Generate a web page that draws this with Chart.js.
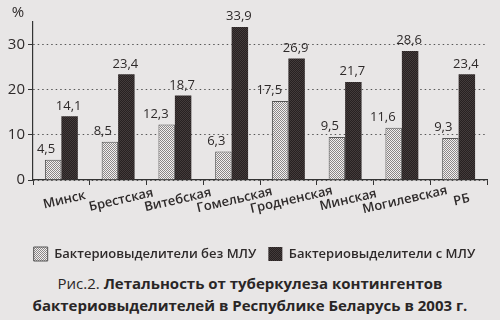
<!DOCTYPE html>
<html lang="ru">
<head>
    <meta charset="UTF-8">
    <title>Летальность от туберкулеза</title>
    <script src="https://cdn.jsdelivr.net/npm/chart.js"></script>
    <style>
        body { margin: 0; background: #e8e6e6; font-family: "Open Sans", sans-serif; }
        #wrap { position: relative; width: 500px; height: 272px; }
        #caption { width: 500px; text-align: center; font-size: 15px; line-height: 22px; color: #2a2626; }
        #caption b { font-weight: 700; }
    </style>
</head>
<body>
    <div id="wrap"><canvas id="chart"></canvas></div>
    <div id="caption">Рис.2. <b>Летальность от туберкулеза контингентов</b><br><b>бактериовыделителей в Республике Беларусь в 2003 г.</b></div>

    <script>
        // data
        const regions = ['Минск', 'Брестская', 'Витебская', 'Гомельская', 'Гродненская', 'Минская', 'Могилевская', 'РБ'];
        const withoutMdr = [4.5, 8.5, 12.3, 6.3, 17.5, 9.5, 11.6, 9.3];
        const withMdr = [14.1, 23.4, 18.7, 33.9, 26.9, 21.7, 28.6, 23.4];
        const yTicks = [0, 10, 20, 30];
        const seriesNames = ['Бактериовыделители без МЛУ', 'Бактериовыделители с МЛУ'];

        const textColor = '#2e2a2a';

        // little dotted textures like the printed hatching
        function makePattern(a, b) {
            const c = document.createElement('canvas');
            c.width = 2; c.height = 2;
            const g = c.getContext('2d');
            g.fillStyle = a; g.fillRect(0, 0, 2, 2);
            g.fillStyle = b; g.fillRect(0, 0, 1, 1); g.fillRect(1, 1, 1, 1);
            return g.createPattern(c, 'repeat');
        }
        const lightFill = makePattern('#f2f0f0', '#8a8686');
        const darkFill = makePattern('#272121', '#433b3b');

        // value labels above bars + rotated category names + "%" sign
        const extras = {
            id: 'extras',
            afterLayout(chart) {
                // the printed legend sits a bit right of centre
                chart.legend.left += 11;
                chart.legend.right += 11;
            },
            afterDatasetsDraw(chart) {
                const ctx = chart.ctx;
                ctx.save();
                ctx.fillStyle = textColor;
                ctx.font = '13px "Open Sans"';
                ctx.textBaseline = 'bottom';
                chart.data.datasets.forEach((ds, i) => {
                    // light bar labels sit slightly to the left, as in the print
                    ctx.textAlign = i === 0 ? 'right' : 'center';
                    const dx = i === 0 ? 2 : -1;
                    chart.getDatasetMeta(i).data.forEach((bar, j) => {
                        ctx.fillText(String(ds.data[j]).replace('.', ','), bar.x + dx, bar.y - 4);
                    });
                });

                const xs = chart.scales.x;
                ctx.textAlign = 'center';
                ctx.font = '600 13px "Open Sans"';
                ctx.textBaseline = 'middle';
                regions.forEach((name, i) => {
                    ctx.save();
                    ctx.translate(xs.getPixelForValue(i) + 3, xs.top + 20);
                    ctx.rotate(-13 * Math.PI / 180);
                    ctx.fillText(name, 0, 0);
                    ctx.restore();
                });

                ctx.font = '15px "Open Sans"';
                ctx.fillText('%', 18, 13);
                ctx.restore();
            }
        };

        new Chart(document.getElementById('chart'), {
            type: 'bar',
            data: {
                labels: regions,
                datasets: [{
                    label: seriesNames[0],
                    data: withoutMdr,
                    backgroundColor: lightFill,
                    borderColor: '#555',
                    borderWidth: 1
                }, {
                    label: seriesNames[1],
                    data: withMdr,
                    backgroundColor: darkFill,
                    borderColor: '#2c2626',
                    borderWidth: 0
                }]
            },
            options: {
                responsive: true,
                maintainAspectRatio: false,
                animation: false,
                datasets: { bar: { categoryPercentage: 0.58, barPercentage: 1.0 } },
                layout: { padding: { left: 0, right: 13, top: 22, bottom: 1 } },
                plugins: {
                    legend: {
                        position: 'bottom',
                        labels: {
                            boxWidth: 14,
                            boxHeight: 14,
                            padding: 12,
                            color: textColor,
                            font: { family: 'Open Sans', size: 13, weight: '600' }
                        }
                    },
                    tooltip: { enabled: false }
                },
                scales: {
                    x: {
                        afterFit: s => { s.height = 55; },
                        ticks: { display: false },
                        grid: {
                            offset: true,
                            drawOnChartArea: false,
                            tickLength: 5,
                            tickColor: '#333'
                        },
                        border: { color: '#333', width: 1.2 }
                    },
                    y: {
                        min: 0,
                        max: 35,
                        afterFit: s => { s.width = 33; },
                        afterBuildTicks: s => { s.ticks = yTicks.map(v => ({ value: v })); },
                        ticks: {
                            color: textColor,
                            padding: 3,
                            font: { family: 'Open Sans', size: 15 }
                        },
                        grid: {
                            color: '#555',
                            lineWidth: 1,
                            tickLength: 5,
                            tickColor: '#333'
                        },
                        border: { color: '#333', width: 1.2, dash: [1.5, 3] }
                    }
                }
            },
            plugins: [extras]
        });
    </script>
</body>
</html>
